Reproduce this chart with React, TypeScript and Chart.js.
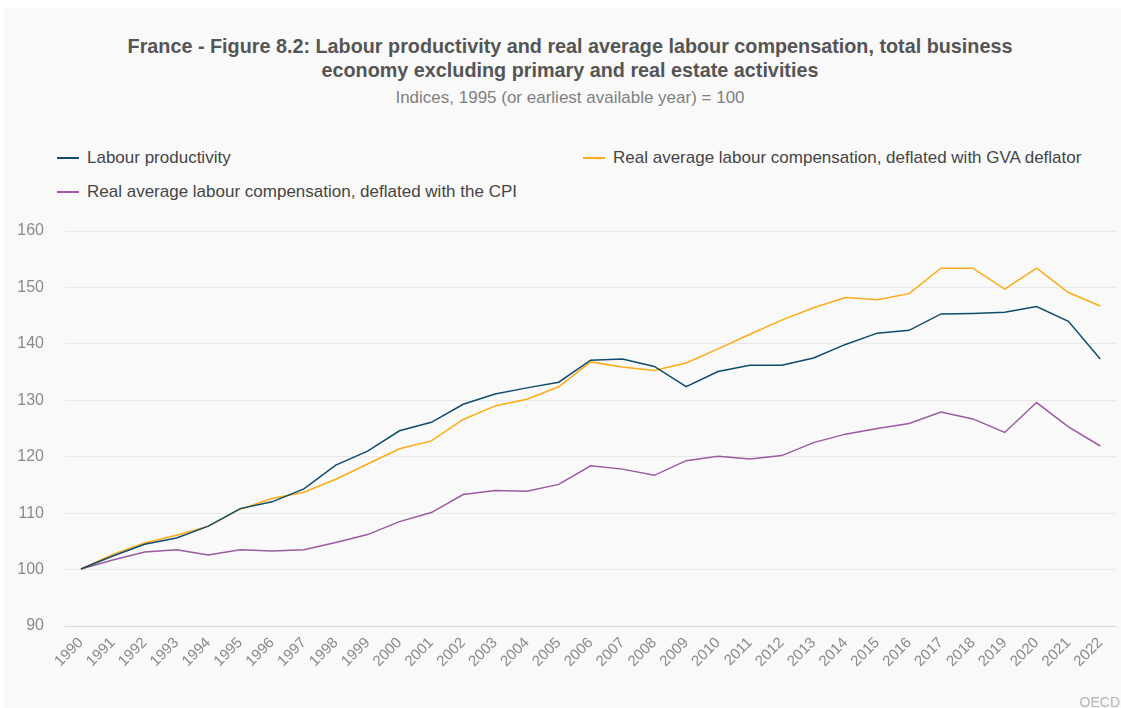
import React, { useEffect, useRef } from "react";
import { Chart, registerables } from "chart.js";

Chart.register(...registerables);

const years = [
  "1990", "1991", "1992", "1993", "1994", "1995", "1996", "1997", "1998", "1999",
  "2000", "2001", "2002", "2003", "2004", "2005", "2006", "2007", "2008", "2009",
  "2010", "2011", "2012", "2013", "2014", "2015", "2016", "2017", "2018", "2019",
  "2020", "2021", "2022",
];

const labourProductivity = [
  100.1, 102.4, 104.5, 105.6, 107.7, 110.8, 112.0, 114.3, 118.5, 121.0,
  124.6, 126.1, 129.3, 131.1, 132.2, 133.2, 137.1, 137.3, 136.0, 132.4,
  135.1, 136.2, 136.2, 137.5, 139.9, 141.9, 142.4, 145.3, 145.4, 145.6,
  146.6, 144.0, 137.3,
];

const realCompGva = [
  100.1, 102.7, 104.7, 106.1, 107.7, 110.7, 112.6, 113.7, 116.0, 118.7,
  121.4, 122.8, 126.6, 129.0, 130.2, 132.4, 136.8, 135.9, 135.3, 136.6,
  139.1, 141.7, 144.2, 146.4, 148.2, 147.8, 148.9, 153.4, 153.4, 149.7,
  153.4, 149.1, 146.7,
];

const realCompCpi = [
  100.1, 101.7, 103.1, 103.5, 102.6, 103.5, 103.3, 103.5, 104.8, 106.2,
  108.5, 110.1, 113.3, 114.0, 113.9, 115.1, 118.4, 117.8, 116.7, 119.3,
  120.1, 119.6, 120.2, 122.5, 124.0, 125.0, 125.9, 127.9, 126.7, 124.3,
  129.6, 125.3, 121.9,
];

const yTicks = [90, 100, 110, 120, 130, 140, 150, 160];

const COLORS = {
  prod: "#0f4c6b",
  gva: "#fdab14",
  cpi: "#9b5aa0",
};

const FONT = 'Arial, "Liberation Sans", Helvetica, sans-serif';

export default function App() {
  const canvasRef = useRef<HTMLCanvasElement | null>(null);

  useEffect(() => {
    const canvas = canvasRef.current;
    if (!canvas) return;
    const chart = new Chart(canvas, {
      type: "line",
      data: {
        labels: years,
        datasets: [
          {
            label: "Labour productivity",
            data: labourProductivity,
            borderColor: COLORS.prod,
            backgroundColor: COLORS.prod,
            borderWidth: 1.5,
            pointRadius: 0,
            tension: 0,
          },
          {
            label: "Real average labour compensation, deflated with GVA deflator",
            data: realCompGva,
            borderColor: COLORS.gva,
            backgroundColor: COLORS.gva,
            borderWidth: 1.5,
            pointRadius: 0,
            tension: 0,
          },
          {
            label: "Real average labour compensation, deflated with the CPI",
            data: realCompCpi,
            borderColor: COLORS.cpi,
            backgroundColor: COLORS.cpi,
            borderWidth: 1.5,
            pointRadius: 0,
            tension: 0,
          },
        ],
      },
      options: {
        responsive: false,
        animation: false,
        devicePixelRatio: 1,
        layout: { padding: { top: 223, left: 0, right: 0, bottom: 32 } },
        plugins: {
          legend: { display: false },
          title: { display: false },
          tooltip: { enabled: false },
        },
        scales: {
          x: {
            type: "category",
            offset: true,
            grid: { display: false, drawTicks: false },
            border: { display: true, color: "#d3dae8", width: 1 },
            ticks: {
              autoSkip: false,
              minRotation: 45,
              maxRotation: 45,
              padding: 8,
              color: "#8a8a8a",
              font: { family: FONT, size: 15 },
            },
            afterFit: (s: any) => {
              s.height = 50;
            },
          },
          y: {
            type: "linear",
            min: yTicks[0],
            max: yTicks[yTicks.length - 1],
            afterBuildTicks: (s: any) => {
              s.ticks = yTicks.map((v) => ({ value: v }));
            },
            grid: { color: "#e8e8e8", lineWidth: 1, drawTicks: false },
            border: { display: false },
            ticks: {
              padding: 21,
              color: "#8a8a8a",
              font: { family: FONT, size: 16 },
            },
            afterFit: (s: any) => {
              s.width = 61;
            },
          },
        },
      },
    });
    return () => chart.destroy();
  }, []);

  const legendItem = (color: string, text: string, left: number, top: number) => (
    <div
      style={{
        position: "absolute",
        left,
        top,
        height: 20,
        display: "flex",
        alignItems: "center",
        whiteSpace: "nowrap",
      }}
    >
      <span
        style={{
          display: "inline-block",
          width: 22,
          height: 2,
          background: color,
          marginRight: 8,
        }}
      />
      <span style={{ fontSize: 17, color: "#454545", fontFamily: FONT }}>{text}</span>
    </div>
  );

  return (
    <div
      style={{
        position: "fixed",
        left: 0,
        top: 0,
        width: 1121,
        height: 708,
        background: "#ffffff",
        overflow: "hidden",
        fontFamily: FONT,
      }}
    >
      <div
        style={{
          position: "absolute",
          left: 4,
          top: 8,
          width: 1117,
          height: 700,
          background: "#f9f9f9",
        }}
      />
      <div
        style={{
          position: "absolute",
          left: 0,
          top: 34,
          width: 1140,
          textAlign: "center",
          fontSize: 19.8,
          fontWeight: "bold",
          lineHeight: "24px",
          color: "#555555",
        }}
      >
        France - Figure 8.2: Labour productivity and real average labour compensation, total business
        <br />
        economy excluding primary and real estate activities
      </div>
      <div
        style={{
          position: "absolute",
          left: 0,
          top: 87,
          width: 1140,
          textAlign: "center",
          fontSize: 17,
          lineHeight: "22px",
          color: "#808080",
        }}
      >
        Indices, 1995 (or earliest available year) = 100
      </div>
      {legendItem(COLORS.prod, "Labour productivity", 57, 148)}
      {legendItem(COLORS.gva, "Real average labour compensation, deflated with GVA deflator", 583, 148)}
      {legendItem(COLORS.cpi, "Real average labour compensation, deflated with the CPI", 57, 182)}
      <canvas
        ref={canvasRef}
        width={1117}
        height={700}
        style={{ position: "absolute", left: 4, top: 8, width: 1117, height: 700 }}
      />
      <div
        style={{
          position: "absolute",
          right: 1,
          top: 693,
          fontSize: 14,
          lineHeight: "18px",
          color: "#b5b5b5",
        }}
      >
        OECD
      </div>
    </div>
  );
}
